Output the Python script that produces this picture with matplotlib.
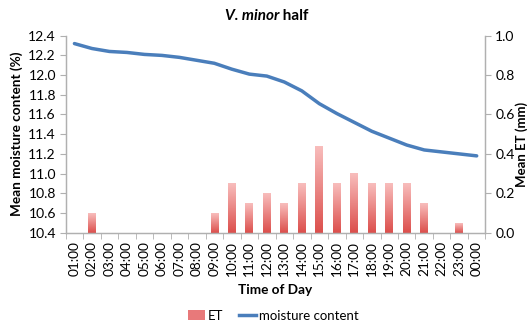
import matplotlib
matplotlib.use("Agg")
import matplotlib.pyplot as plt
import numpy as np
from matplotlib.colors import LinearSegmentedColormap
from matplotlib.patches import Patch
from matplotlib.lines import Line2D

plt.rcParams['font.family'] = ['Lato', 'DejaVu Sans']

hours = ['01:00', '02:00', '03:00', '04:00', '05:00', '06:00', '07:00', '08:00',
         '09:00', '10:00', '11:00', '12:00', '13:00', '14:00', '15:00', '16:00',
         '17:00', '18:00', '19:00', '20:00', '21:00', '22:00', '23:00', '00:00']

# mean evapotranspiration per hour (mm)
et = [0, 0.10, 0, 0, 0, 0, 0, 0,
      0.10, 0.25, 0.15, 0.20, 0.15, 0.25, 0.44, 0.25,
      0.30, 0.25, 0.25, 0.25, 0.15, 0, 0.05, 0]

# mean moisture content (%)
moisture = [12.32, 12.27, 12.24, 12.23, 12.21, 12.20, 12.18, 12.15,
            12.12, 12.06, 12.01, 11.99, 11.93, 11.84, 11.71, 11.61,
            11.52, 11.43, 11.36, 11.29, 11.24, 11.22, 11.20, 11.18]

grey = '#B0B0B0'
line_blue = '#4A7EBB'
bar_cmap = LinearSegmentedColormap.from_list('et', ['#DC4F4C', '#F8BDBC'])

fig = plt.figure(figsize=(5.28, 3.26), dpi=100)
ax = fig.add_axes([0.1244, 0.2862, 0.795, 0.6043])
ax2 = ax.twinx()

x = np.arange(len(hours))
w = 0.44

# ET bars with a vertical gradient fill
ax2.set_ylim(0, 1.0)
grad = np.linspace(0, 1, 64).reshape(-1, 1)
for xi, v in zip(x, et):
    if v <= 0:
        continue
    ax2.imshow(grad, extent=(xi - w / 2, xi + w / 2, 0, v), origin='lower',
               aspect='auto', cmap=bar_cmap, zorder=1)
ax2.set_xlim(-0.5, len(hours) - 0.5)

# moisture line on top of bars
ax.set_zorder(ax2.get_zorder() + 1)
ax.patch.set_visible(False)
ax.plot(x, moisture, color=line_blue, lw=2.5, solid_capstyle='round')
ax.set_ylim(10.4, 12.4)
ax.set_xlim(-0.5, len(hours) - 0.5)
ax.set_yticks(np.arange(10.4, 12.41, 0.2))
ax.set_yticklabels([f'{v:.1f}' for v in np.arange(10.4, 12.41, 0.2)])
ax2.set_yticks(np.arange(0, 1.01, 0.2))
ax2.set_yticklabels([f'{v:.1f}' for v in np.arange(0, 1.01, 0.2)])

ax.set_xticks(x)
ax.set_xticklabels(hours, rotation=90, fontsize=9.8)
ax.set_xticks(np.arange(-0.5, len(hours), 1), minor=True)
ax.tick_params(axis='x', which='major', length=0, pad=6)
ax.tick_params(axis='x', which='minor', length=4, color=grey)
ax.tick_params(axis='y', length=4, color=grey, labelsize=10, pad=3)
ax2.tick_params(axis='y', length=4, color=grey, labelsize=10, pad=3)
ax2.tick_params(axis='x', length=0, labelbottom=False)

for a in (ax, ax2):
    a.spines['top'].set_visible(False)
    for s in ('left', 'right', 'bottom'):
        a.spines[s].set_color(grey)
        a.spines[s].set_linewidth(0.9)

ax.set_ylabel('Mean moisture content (%)', fontsize=9.8, fontweight='bold')
ax.yaxis.set_label_coords(-0.102, 0.5)
ax2.set_ylabel('Mean ET (mm)', fontsize=9.5, fontweight='bold', rotation=90)
ax2.yaxis.set_label_coords(1.07, 0.45)
ax.set_xlabel('Time of Day', fontsize=9.8, fontweight='bold', labelpad=6)

# title: italic species name followed by plain bold text
t1 = fig.text(0.4255, 0.952, 'V. minor', fontsize=11, fontweight='bold',
              fontstyle='italic', ha='left', va='center')
ax.annotate(' half', xy=(1, 0.5), xycoords=t1, fontsize=11, fontweight='bold',
            ha='left', va='center', annotation_clip=False)

handles = [Patch(facecolor='#E8797A', edgecolor='none'),
           Line2D([], [], color=line_blue, lw=2.5)]
fig.legend(handles, ['ET', 'moisture content'], loc='center',
           bbox_to_anchor=(0.517, 0.032), ncol=2, frameon=False, fontsize=9.5,
           handlelength=1.3, handletextpad=0.2, columnspacing=1.2)

fig.savefig('out.png', dpi=100)
